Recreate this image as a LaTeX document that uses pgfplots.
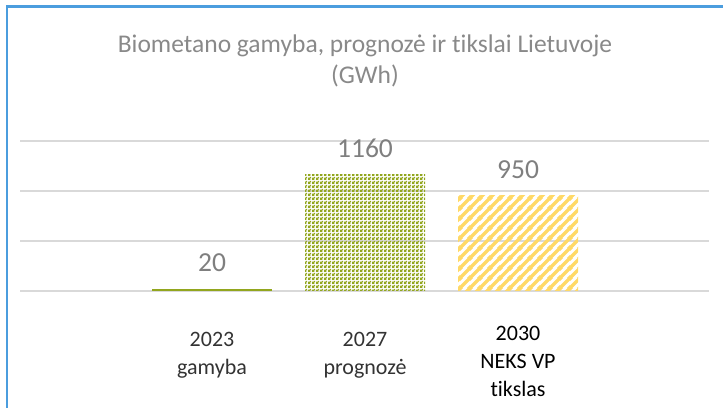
\documentclass[border=0pt]{standalone}
\usepackage{fontspec}
\setmainfont{Carlito}[Ligatures=NoCommon]
\usepackage{pgfplots}
\pgfplotsset{compat=1.18}
\usetikzlibrary{patterns}
\definecolor{bgreen}{RGB}{146,166,30}
\definecolor{byellow}{RGB}{255,217,102}
\definecolor{bblue}{RGB}{75,157,222}
\definecolor{gridc}{RGB}{217,217,217}
\definecolor{lblgray}{RGB}{127,127,127}
\definecolor{ttlgray}{RGB}{137,137,137}
\definecolor{tickc}{RGB}{51,51,51}

% small checker for the 2027 bar
\pgfdeclarepatternformonly{bchecker}{\pgfqpoint{0bp}{0bp}}{\pgfqpoint{4bp}{4bp}}{\pgfqpoint{4bp}{4bp}}{%
  \pgfpathrectangle{\pgfqpoint{0bp}{0bp}}{\pgfqpoint{2.6bp}{2.6bp}}%
  \pgfpathrectangle{\pgfqpoint{2bp}{2bp}}{\pgfqpoint{2bp}{2bp}}%
  \pgfpathrectangle{\pgfqpoint{0bp}{3.4bp}}{\pgfqpoint{0.6bp}{0.6bp}}%
  \pgfpathrectangle{\pgfqpoint{3.4bp}{0bp}}{\pgfqpoint{0.6bp}{0.6bp}}%
  \pgfusepath{fill}}
% wide diagonal stripes for the 2030 bar
\pgfdeclarepatternformonly{bstripes}{\pgfqpoint{0bp}{0bp}}{\pgfqpoint{10bp}{10bp}}{\pgfqpoint{10bp}{10bp}}{%
  \pgfsetlinewidth{3.6bp}%
  \pgfpathmoveto{\pgfqpoint{-5bp}{-5bp}}\pgfpathlineto{\pgfqpoint{15bp}{15bp}}%
  \pgfpathmoveto{\pgfqpoint{-5bp}{5bp}}\pgfpathlineto{\pgfqpoint{5bp}{15bp}}%
  \pgfpathmoveto{\pgfqpoint{5bp}{-5bp}}\pgfpathlineto{\pgfqpoint{15bp}{5bp}}%
  \pgfusepath{stroke}}

\begin{document}
\begin{tikzpicture}
\useasboundingbox (0,0) rectangle (723bp,408bp);
\draw[bblue, line width=2.2bp] (7bp,0) -- (7bp,401.5bp) -- (730bp,401.5bp);
\node[ttlgray, font=\fontsize{25.5bp}{31bp}\selectfont, align=center, anchor=north]
  at (365bp,377bp) {Biometano gamyba, prognozė ir tikslai Lietuvoje\\(GWh)};
\begin{axis}[
  at={(20bp,117bp)}, anchor=south west,
  scale only axis, width=689bp, height=150bp,
  xmin=-1.255, xmax=3.248,
  ymin=0, ymax=1500,
  ytick={0,500,1000,1500}, yticklabels={},
  ymajorgrids, grid style={gridc, line width=1.5bp},
  major tick length=0pt,
  axis line style={draw=none},
  xtick={0,1,2},
  xticklabels={\rule{0pt}{20bp}2023\\gamyba, \rule{0pt}{20bp}2027\\prognozė, \textcolor{black}{2030}\\\textcolor{black}{NEKS VP}\\\textcolor{black}{tikslas}},
  x tick label style={text=tickc, align=center, font=\fontsize{22bp}{28bp}\selectfont, anchor=north, yshift=-32bp},
  /pgf/number format/.cd, 1000 sep={}, assume math mode=true, /pgfplots/.cd,
  ybar, bar width=120bp, bar shift=0pt,
  nodes near coords,
  every node near coord/.append style={lblgray, font=\fontsize{27.5bp}{30bp}\selectfont, yshift=14bp},
  clip=false,
]
\addplot[draw=none, fill=bgreen] coordinates {(0,20)};
\addplot[draw=none, pattern=bchecker, pattern color=bgreen] coordinates {(1,1160)};
\addplot[draw=none, pattern=bstripes, pattern color=byellow] coordinates {(2,950)};
\end{axis}
\end{tikzpicture}
\end{document}
